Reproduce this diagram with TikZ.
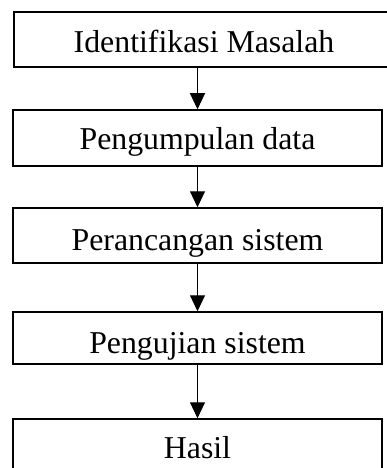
\documentclass[tikz,border=0pt]{standalone}
\usepackage{fontspec}
\setmainfont{Liberation Serif}
\usetikzlibrary{arrows.meta}
\begin{document}
\begin{tikzpicture}[x=1pt,y=-1pt,
  stepbox/.style={draw=black, line width=1.5pt, rectangle, inner sep=0pt,
    minimum width=369pt, text depth=0pt,
    font=\fontsize{31.8}{38}\selectfont},
  flow/.style={draw=black, line width=1pt, -{Triangle[width=15pt,length=16pt]}}]
\useasboundingbox (0,0) rectangle (387,468);
\clip (0,0) rectangle (387,468);
\node[stepbox, minimum width=380pt, minimum height=55pt, text height=27pt] (b1) at (204,39.5) {Identifikasi Masalah};
\node[stepbox, minimum height=56pt, text height=22pt] (b2) at (197.5,138) {Pengumpulan data};
\node[stepbox, minimum height=55pt, text height=29pt] (b3) at (197.5,235.5) {Perancangan sistem};
\node[stepbox, minimum height=52pt, text height=30pt] (b4) at (197.5,338) {Pengujian sistem};
\node[stepbox, minimum height=55pt, text height=23pt] (b5) at (197.5,446.5) {Hasil};
\draw[flow] (b2.north |- b1.south) -- (b2.north);
\draw[flow] (b2.south) -- (b3.north);
\draw[flow] (b3.south) -- (b4.north);
\draw[flow] (b4.south) -- (b5.north);
\end{tikzpicture}
\end{document}
